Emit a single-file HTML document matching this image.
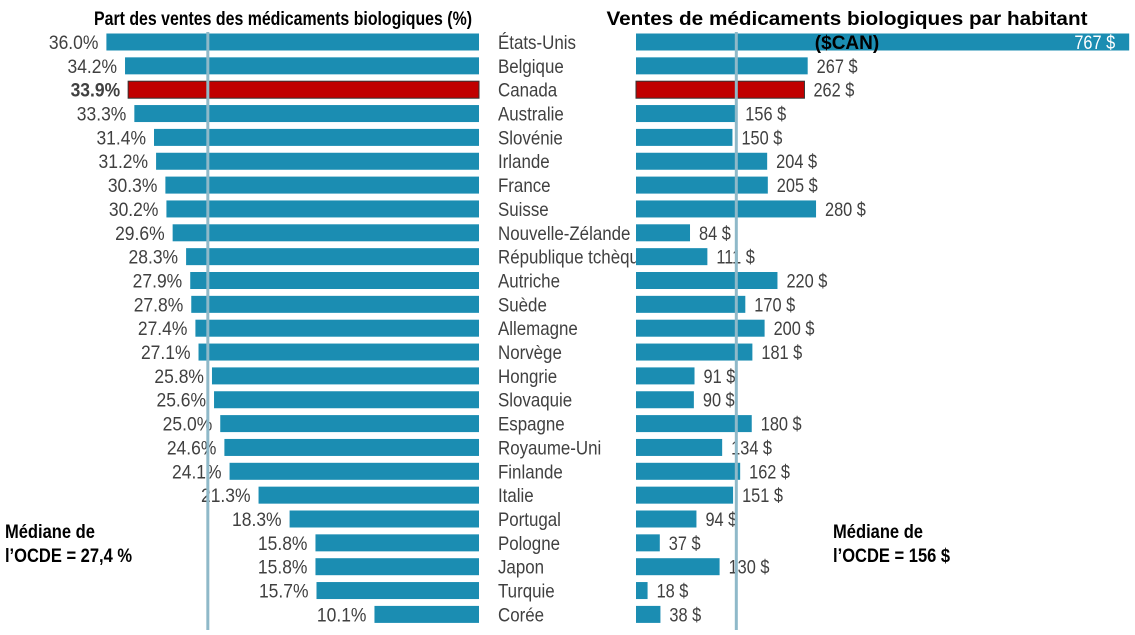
<!DOCTYPE html>
<html><head><meta charset="utf-8"><style>
body{margin:0;background:#fff;width:1135px;height:630px;overflow:hidden}
svg text{font-family:"Liberation Sans",sans-serif}
</style></head><body>
<svg id="c" width="1135" height="630">
<text x="283" y="25" text-anchor="middle" font-size="19" font-weight="bold" textLength="378" lengthAdjust="spacingAndGlyphs">Part des ventes des médicaments biologiques (%)</text>
<text x="847" y="25" text-anchor="middle" font-size="19" font-weight="bold" textLength="481" lengthAdjust="spacingAndGlyphs">Ventes de médicaments biologiques par habitant</text>
<g id="bars"></g>
<text x="847" y="49" text-anchor="middle" font-size="19" font-weight="bold">($CAN)</text>
<text transform="scale(0.87,1)" x="5.7" y="538" font-size="19" font-weight="bold">Médiane de</text>
<text transform="scale(0.87,1)" x="5.7" y="562" font-size="19" font-weight="bold">l’OCDE = 27,4 %</text>
<text transform="scale(0.87,1)" x="957.5" y="538" font-size="19" font-weight="bold">Médiane de</text>
<text transform="scale(0.87,1)" x="957.5" y="562" font-size="19" font-weight="bold">l’OCDE = 156 $</text>
</svg>
<script>
const countries=["États-Unis","Belgique","Canada","Australie","Slovénie","Irlande","France","Suisse","Nouvelle-Zélande","République tchèque","Autriche","Suède","Allemagne","Norvège","Hongrie","Slovaquie","Espagne","Royaume-Uni","Finlande","Italie","Portugal","Pologne","Japon","Turquie","Corée"];
const sharePct=[36.0,34.2,33.9,33.3,31.4,31.2,30.3,30.2,29.6,28.3,27.9,27.8,27.4,27.1,25.8,25.6,25.0,24.6,24.1,21.3,18.3,15.8,15.8,15.7,10.1];
const perCapita=[767,267,262,156,150,204,205,280,84,111,220,170,200,181,91,90,180,134,162,151,94,37,130,18,38];
const medianShare=[26.2];
const medianPerCapita=[156];
const NS="http://www.w3.org/2000/svg";
const g=document.getElementById('bars');
const xL=v=>479-v*10.35;
const xR=v=>636+v*0.643;
const yC=i=>42+i*23.85;
function mk(t,a){const e=document.createElementNS(NS,t);for(const k in a)e.setAttribute(k,a[k]);g.appendChild(e);return e;}
function tx(x,y,anchor,size,fill,bold,str,sc){const e=mk('text',{x:x/sc,y:y,transform:'scale('+sc+',1)','text-anchor':anchor,'font-size':size,fill:fill,'font-weight':bold?'bold':'normal'});e.textContent=str;return e;}
countries.forEach((c,i)=>{
 const can=c==="Canada";
 const fill=can?"#C00000":"#1B8DB2";
 const y=yC(i);
 const b1=mk('rect',{x:xL(sharePct[i]),y:y-8.5,width:479-xL(sharePct[i]),height:17,fill:fill,stroke:can?"#333":"none"});
 
 
 const t1=tx(xL(sharePct[i])-8,y+7,'end',19,'#404040',can,sharePct[i].toFixed(1)+"%",0.92);
 
 
 const t2=tx(498,y+7,'start',19,'#404040',false,c,0.89);
 
 
 const b2=mk('rect',{x:636,y:y-8.5,width:xR(perCapita[i])-636,height:17,fill:fill,stroke:can?"#333":"none"});
 
 
 const inside=xR(perCapita[i])>1080;
 const t3=tx(inside?xR(perCapita[i])-14:xR(perCapita[i])+9,y+7,inside?'end':'start',19,inside?'#fff':'#404040',false,perCapita[i]+" $",0.86);
 
 
});
const m1=mk('line',{x1:xL(medianShare[0]),x2:xL(medianShare[0]),y1:32,y2:630,stroke:'#8FB9C9','stroke-width':3});


const m2=mk('line',{x1:xR(medianPerCapita[0]),x2:xR(medianPerCapita[0]),y1:32,y2:630,stroke:'#8FB9C9','stroke-width':3});


</script>
</body></html>
